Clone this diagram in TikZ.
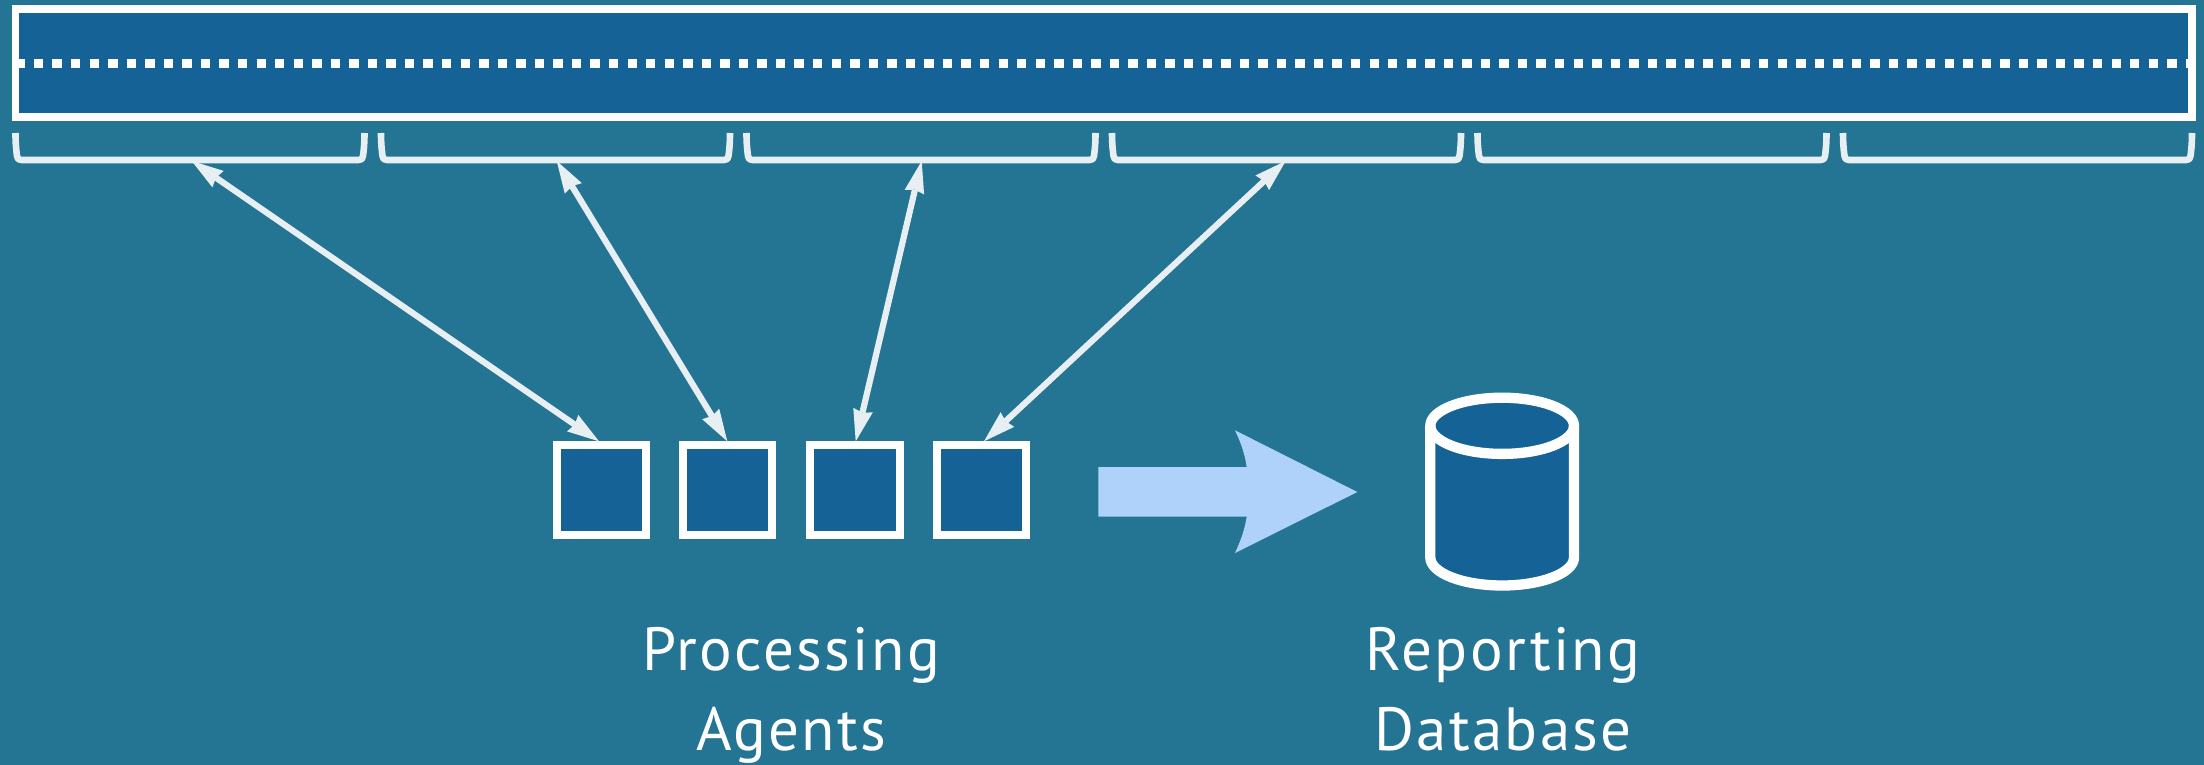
\documentclass[tikz,border=0pt]{standalone}
\usepackage{fontspec}
\setmainfont[LetterSpace=3.9,Ligatures=NoCommon]{PT Sans}
\usetikzlibrary{arrows.meta,calc}
\definecolor{bgc}{HTML}{247494}
\definecolor{boxc}{HTML}{156296}
\definecolor{linec}{HTML}{E8EFF3}
\definecolor{bigc}{HTML}{AFD2FA}
\tikzset{
  box/.style={draw=white,fill=boxc,line width=8pt,inner sep=0pt,minimum width=89.2pt,minimum height=89.4pt},
  logbox/.style={draw=white,fill=boxc,line width=7.5pt,inner sep=0pt,minimum width=2176.7pt,minimum height=107.8pt},
  bracket/.style={draw=linec,line width=6.6pt,line join=round},
  link/.style={draw=linec,line width=6.2pt,{Stealth[length=32pt,width=20pt,inset=2.5pt,line width=0pt]}-{Stealth[length=32pt,width=20pt,inset=2.5pt,line width=0pt]}},
  caption/.style={text=white,align=center,font=\fontsize{61}{80}\selectfont,inner sep=0pt,anchor=base},
  dbline/.style={draw=white,line width=10.3pt,line join=round}
}
\begin{document}
\begin{tikzpicture}[x=1pt,y=-1pt]
\useasboundingbox (0,0) rectangle (2204,765);
\fill[bgc] (0,0) rectangle (2204,765);
\node[logbox] (log) at (1103.65,63.1) {};
\coordinate (dotL) at ($(log.west)+(3.8,0.2)$);
\coordinate (dotR) at ($(log.east)+(-3.8,0.2)$);
\draw[white,line width=9.3pt,dash pattern=on 9.4pt off 9.15pt] (dotL) -- (dotR);
\foreach \x in {15.5,381,746.5,1112,1477.5,1843}{
  \draw[bracket] (\x,133) .. controls (\x,145) and (\x+1,152) .. (\x+1.5,156) .. controls (\x+1.8,159) and (\x+3,160) .. (\x+6,160)
    -- (\x+343,160) .. controls (\x+346,160) and (\x+347.2,159) .. (\x+347.5,156) .. controls (\x+348,152) and (\x+349,145) .. (\x+349,133);
}
\node[box] (a1) at (601.8,490) {};
\node[box] (a2) at (727.7,490) {};
\node[box] (a3) at (855,490) {};
\node[box] (a4) at (981.2,490) {};
\coordinate (t1) at (191.7,161);
\coordinate (t2) at (556.7,161);
\coordinate (t3) at (921.7,161);
\coordinate (t4) at (1285.7,161);
\draw[link] (t1) -- ($(a1.north)+(-2.8,0)$);
\draw[link] (t2) -- ($(a2.north)+(-0.4,0)$);
\draw[link] (t3) -- ($(a3.north)+(0.7,0)$);
\draw[link] (t4) -- ($(a4.north)+(2.8,0)$);
\fill[bigc] (1098.3,467) -- (1246.7,467) .. controls (1244.5,452) and (1240,441) .. (1235,430.3) -- (1357.3,492)
  -- (1235,553) .. controls (1240,542) and (1244.5,531) .. (1246.7,516.7) -- (1098.3,516.7) -- cycle;
\filldraw[dbline,fill=boxc] (1430.3,425.8) -- (1430.3,557.4) arc[start angle=180,end angle=0,x radius=71.85,y radius=28.1] -- (1574,425.8) arc[start angle=0,end angle=-180,x radius=71.85,y radius=28.1] -- cycle;
\draw[dbline] (1430.3,425.8) arc[start angle=180,end angle=0,x radius=71.85,y radius=28.1];
\node[caption] (agents) at (791.2,750.3) {Processing\\Agents};
\node[caption] (report) at (1503,750.3) {Reporting\\Database};
\end{tikzpicture}
\end{document}
